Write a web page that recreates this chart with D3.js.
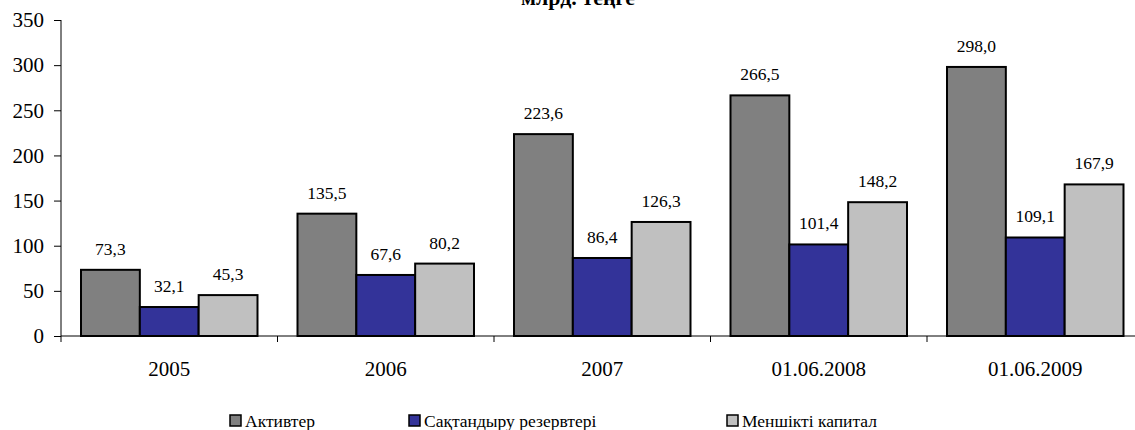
<!DOCTYPE html>
<html><head><meta charset="utf-8">
<script src="https://cdn.jsdelivr.net/npm/d3@7"></script>
<style>body{margin:0;background:#fff}svg{display:block}svg text{font-family:"Liberation Serif","Times New Roman",serif}</style>
</head><body><svg id="c" width="1135" height="430"></svg>
<script>
const categories = ["2005","2006","2007","01.06.2008","01.06.2009"];
const seriesNames = ["Активтер","Сақтандыру резервтері","Меншікті капитал"];
const assets = [73.3,135.5,223.6,266.5,298.0];
const reserves = [32.1,67.6,86.4,101.4,109.1];
const capital = [45.3,80.2,126.3,148.2,167.9];
const yTicks = [0,50,100,150,200,250,300,350];
const colors = ["#808080","#333399","#c0c0c0"];
const title = "млрд. теңге";

const FF = "Liberation Serif";
const series = [assets,reserves,capital];
const svg = d3.select("#c");
const m = {l:61, t:20, b:336};
const plotW = 216.5*5;
const x = d3.scaleBand().domain(categories).range([m.l, m.l+plotW]).paddingInner(0).paddingOuter(0);
const xs = d3.scaleBand().domain([0,1,2]).range([0, x.bandwidth()]).paddingInner(0).paddingOuter(0.34);
const y = d3.scaleLinear().domain([0,350]).range([m.b, m.t]);
const fmt = v => v.toFixed(1).replace(".",",");

svg.append("text").attr("x",578).attr("y",5).attr("text-anchor","middle").attr("font-family",FF)
  .attr("font-weight","bold").attr("font-size",22).text(title);

// y axis
const ya = svg.append("g").attr("transform",`translate(${m.l},0)`)
  .call(d3.axisLeft(y).tickValues(yTicks).tickSize(7).tickPadding(10).tickFormat(d=>d));
ya.attr("font-family",FF);
ya.selectAll("text").attr("font-size",21).attr("fill","#000").attr("font-family",FF);
ya.selectAll("line,path").attr("stroke","#000");
ya.select("path").attr("d",`M0,${y(0)}V${y(350)}`);

// x axis
const xa = svg.append("g").attr("transform",`translate(0,${m.b})`);
xa.append("line").attr("x1",m.l).attr("x2",m.l+plotW).attr("stroke","#000");
const bounds = categories.map(c=>x(c)).concat([m.l+plotW]);
xa.selectAll("line.t").data(bounds).join("line").attr("class","t")
  .attr("x1",d=>d).attr("x2",d=>d).attr("y1",0).attr("y2",6).attr("stroke","#000");
xa.selectAll("text").data(categories).join("text")
  .attr("x",d=>x(d)+x.bandwidth()/2).attr("y",40).attr("text-anchor","middle").attr("font-family",FF)
  .attr("font-size",21).text(d=>d);

// bars
series.forEach((vals,si)=>{
  const g = svg.append("g");
  g.selectAll("rect").data(vals).join("rect")
    .attr("x",(d,i)=>x(categories[i])+xs(si))
    .attr("y",d=>y(d)).attr("width",xs.bandwidth()).attr("height",d=>y(0)-y(d))
    .attr("fill",colors[si]).attr("stroke","#000").attr("stroke-width",2);
  g.selectAll("text").data(vals).join("text")
    .attr("x",(d,i)=>x(categories[i])+xs(si)+xs.bandwidth()/2)
    .attr("y",d=>y(d)-15).attr("text-anchor","middle").attr("font-family",FF).attr("font-size",17.5).text(fmt);
});

// legend
const legX = [230,409,727];
const lg = svg.append("g");
seriesNames.forEach((n,i)=>{
  lg.append("rect").attr("x",legX[i]).attr("y",415).attr("width",11).attr("height",11)
    .attr("fill",colors[i]).attr("stroke","#000").attr("stroke-width",1.5);
  lg.append("text").attr("x",legX[i]+15).attr("y",427).attr("font-family",FF).attr("font-size",17.5).text(n);
});
</script></body></html>
